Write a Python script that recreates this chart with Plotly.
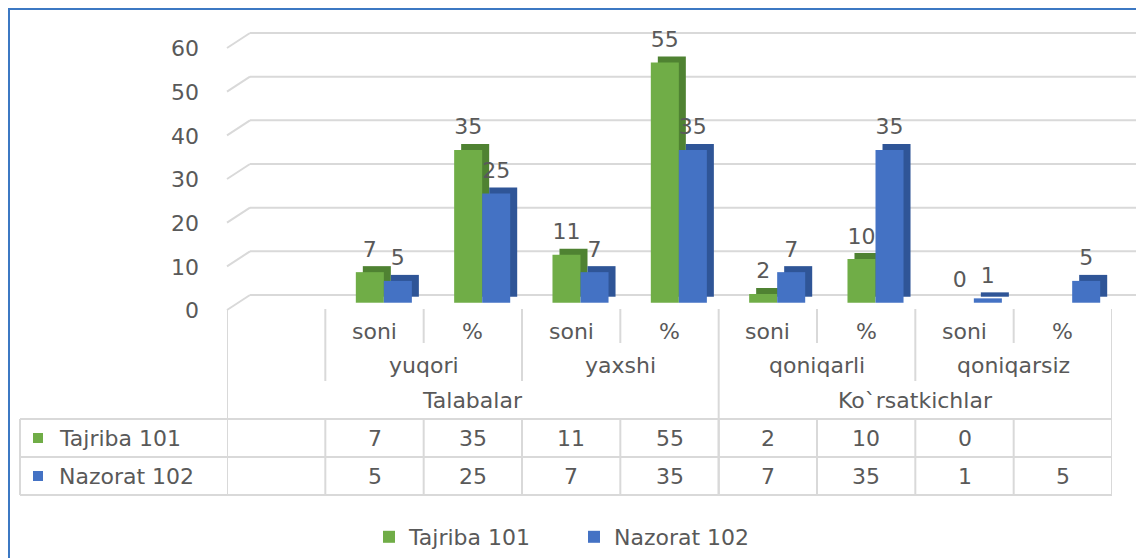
import plotly.graph_objects as go

# ---------------- data ----------------
top_groups = ["Talabalar", "Ko`rsatkichlar"]
mid_groups = ["yuqori", "yaxshi", "qoniqarli", "qoniqarsiz"]
sub_labels = ["soni", "%", "soni", "%", "soni", "%", "soni", "%"]
series_names = ["Tajriba 101", "Nazorat 102"]
tajriba = [7, 35, 11, 55, 2, 10, 0, None]
nazorat = [5, 25, 7, 35, 7, 35, 1, 5]
y_ticks = [0, 10, 20, 30, 40, 50, 60]

series_values = [tajriba, nazorat]
front_colors = ["#70AD47", "#4472C4"]
side_colors = ["#4F8232", "#2F5597"]
TXT = "#595959"
GRID = "#D9D9D9"
FONT = "DejaVu Sans"
FS = 22

# ---------------- layout geometry ----------------
# page has an 8px body margin; positions below are given in window pixels
OFF_PAGE = 8
W, H = 1144 - OFF_PAGE, 558 - OFF_PAGE
PLOT_L, PLOT_R, PLOT_T, PLOT_B = 227, 1112, 32, 318   # window px
ML = PLOT_L - OFF_PAGE
MR = W - (PLOT_R - OFF_PAGE)
MT = PLOT_T - OFF_PAGE
MB = H - (PLOT_B - OFF_PAGE)
PW = PLOT_R - PLOT_L
PH = PLOT_B - PLOT_T
Y_RANGE = [-3.5, 62.0]
K = PH / (Y_RANGE[1] - Y_RANGE[0])          # px per value unit
n_slots = len(sub_labels) + 1               # first slot is the empty column
X_RANGE = [-0.5, n_slots - 0.5]
CW = PW / (X_RANGE[1] - X_RANGE[0])          # px per category


def px_x(px):
    return (px - PLOT_L) / PW


def px_y(py):
    return (PLOT_B - py) / PH


x_pos = list(range(1, n_slots))
BAR_W = 0.285
OFF = [-0.19, 0.095]
DX = 7 / CW
DY = 6 / K
LBL = 21 / K
BACK_DY = 7.7 / K
FRONT_DY = 7.3 / K

fig = go.Figure()

# bars (side/top faces drawn as shifted darker bars behind the front faces)
for s, (name, vals) in enumerate(zip(series_names, series_values)):
    fig.add_bar(x=x_pos, y=vals, base=DY, offset=OFF[s] + DX, width=BAR_W,
                marker=dict(color=side_colors[s], line=dict(width=0)),
                showlegend=False, hoverinfo="skip")
    fig.add_bar(x=x_pos, y=vals, offset=OFF[s], width=BAR_W, name=name,
                marker=dict(color=front_colors[s], line=dict(width=0)))

# data labels
for s, vals in enumerate(series_values):
    fig.add_scatter(
        x=[x + OFF[s] + BAR_W / 2 for x in x_pos],
        y=[None if v is None else v + LBL for v in vals],
        text=["" if v is None else str(v) for v in vals],
        mode="text", textposition="middle center",
        textfont=dict(family=FONT, size=FS, color=TXT),
        showlegend=False, hoverinfo="skip", cliponaxis=False)

shapes = []
# back-wall gridlines with slanted connectors to the front
for v in y_ticks:
    shapes.append(dict(type="line", xref="paper", yref="y", layer="below",
                       x0=px_x(250), x1=px_x(1136), y0=v + BACK_DY, y1=v + BACK_DY,
                       line=dict(color=GRID, width=2)))
    shapes.append(dict(type="line", xref="paper", yref="y", layer="below",
                       x0=px_x(227), x1=px_x(250), y0=v - FRONT_DY, y1=v + BACK_DY,
                       line=dict(color=GRID, width=2)))

# category label separators and data table grid
LBL_TOP, SHORT_END, MID_END, TAB_TOP, TAB_MID, TAB_BOT = 309, 343, 381, 419, 457, 495
TAB_LEFT = 20
line_style = dict(color=GRID, width=2)
top_bounds = [-0.5, 4.5, n_slots - 0.5]
mid_bounds = [0.5, 2.5, 6.5]
for i in range(n_slots + 1):
    b = i - 0.5
    if b in top_bounds:
        y_end = TAB_BOT
    elif b in mid_bounds:
        y_end = MID_END
    else:
        y_end = SHORT_END
    shapes.append(dict(type="line", xref="x", yref="paper", x0=b, x1=b,
                       y0=px_y(LBL_TOP), y1=px_y(y_end), line=line_style))
    shapes.append(dict(type="line", xref="x", yref="paper", x0=b, x1=b,
                       y0=px_y(TAB_TOP), y1=px_y(TAB_BOT), line=line_style))
shapes.append(dict(type="line", xref="paper", yref="paper", x0=px_x(TAB_LEFT), x1=px_x(TAB_LEFT),
                   y0=px_y(TAB_TOP), y1=px_y(TAB_BOT), line=line_style))
for py in (TAB_TOP, TAB_MID, TAB_BOT):
    shapes.append(dict(type="line", xref="paper", yref="paper", x0=px_x(TAB_LEFT), x1=1.0,
                       y0=px_y(py), y1=px_y(py), line=line_style))

# legend keys inside the table
row_py = [438, 476]
for s in range(2):
    shapes.append(dict(type="rect", xref="paper", yref="paper",
                       x0=px_x(33), x1=px_x(43), y0=px_y(row_py[s] + 5), y1=px_y(row_py[s] - 5),
                       fillcolor=front_colors[s], line=dict(width=0)))

# outer chart border (blue), as close to the window edge as the page allows
shapes.append(dict(type="line", xref="paper", yref="paper", x0=px_x(9), x1=px_x(9),
                   y0=px_y(9), y1=px_y(570), line=dict(color="#3C78C3", width=2)))
shapes.append(dict(type="line", xref="paper", yref="paper", x0=px_x(8), x1=px_x(1160),
                   y0=px_y(9), y1=px_y(9), line=dict(color="#3C78C3", width=2)))

ann = []
afont = dict(family=FONT, size=FS, color=TXT)
for i, lab in enumerate(sub_labels):
    ann.append(dict(x=x_pos[i], y=px_y(331), xref="x", yref="paper", text=lab,
                    showarrow=False, font=afont, xanchor="center", yanchor="middle"))
for j, lab in enumerate(mid_groups):
    ann.append(dict(x=2 * j + 1.5, y=px_y(365), xref="x", yref="paper", text=lab,
                    showarrow=False, font=afont, xanchor="center", yanchor="middle"))
top_centers = [(top_bounds[0] + top_bounds[1]) / 2, (top_bounds[1] + top_bounds[2]) / 2]
for j, lab in enumerate(top_groups):
    ann.append(dict(x=top_centers[j], y=px_y(400), xref="x", yref="paper", text=lab,
                    showarrow=False, font=afont, xanchor="center", yanchor="middle"))
for s, (name, vals) in enumerate(zip(series_names, series_values)):
    ann.append(dict(x=px_x(57), y=px_y(row_py[s]), xref="paper", yref="paper", text=name,
                    showarrow=False, font=afont, xanchor="left", yanchor="middle"))
    for i, v in enumerate(vals):
        ann.append(dict(x=x_pos[i], y=px_y(row_py[s]), xref="x", yref="paper",
                        text="" if v is None else str(v),
                        showarrow=False, font=afont, xanchor="center", yanchor="middle"))

fig.update_layout(
    width=W, height=H,
    margin=dict(l=ML, r=MR, t=MT, b=MB, autoexpand=False),
    paper_bgcolor="white", plot_bgcolor="white",
    barmode="overlay",
    shapes=shapes, annotations=ann,
    font=dict(family=FONT, size=FS, color=TXT),
    legend=dict(orientation="h", x=px_x(369), xanchor="left", y=px_y(537), yanchor="middle",
                font=dict(family=FONT, size=FS, color=TXT), entrywidth=160,
                bgcolor="rgba(0,0,0,0)"),
    xaxis=dict(range=X_RANGE, showgrid=False, zeroline=False, showline=False,
               showticklabels=False, ticks="", fixedrange=True),
    yaxis=dict(range=Y_RANGE, tickvals=y_ticks, showgrid=False, zeroline=False, showline=False,
               ticks="", tickfont=dict(family=FONT, size=FS, color=TXT),
               ticklabelstandoff=27, ticklabelshift=8, fixedrange=True),
)

fig.write_html("out.html")
